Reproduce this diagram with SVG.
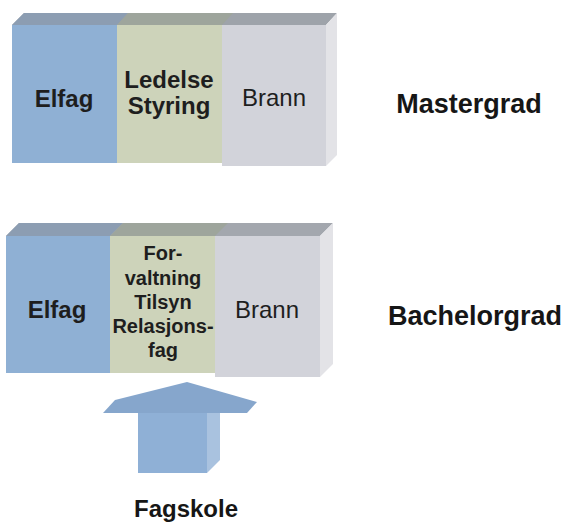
<svg xmlns="http://www.w3.org/2000/svg" width="573" height="522" viewBox="0 0 573 522">
<style>
.t{font-family:"Liberation Sans",Arial,sans-serif;fill:#1e1e1e;text-anchor:middle}
.b{font-weight:bold}
.lbl{font-family:"Liberation Sans",Arial,sans-serif;font-weight:bold;fill:#161616;font-size:27px;text-anchor:middle}
.blue{fill:#8fb0d4}
.green{fill:#cdd3ba}
.grey{fill:#d2d3da}
.side{fill:#e3e3e7}
</style>
<rect width="573" height="522" fill="#ffffff"/>
<g id="master">
  <polygon points="12,25 24,13 337,13 326,25" fill="#9ea3aa"/>
  <polygon points="12,25 24,13 128,13 117,25" fill="#8c9db2"/>
  <polygon points="117,25 128,13 233,13 222,25" fill="#9ea59c"/>
  <polygon points="326,25 337,13 337,155 326,166" class="side"/>
  <rect x="12" y="25" width="105" height="138" class="blue"/>
  <rect x="117" y="25" width="105" height="138" class="green"/>
  <rect x="222" y="25" width="104" height="141" class="grey"/>
  <text class="t b" x="64" y="107" font-size="24">Elfag</text>
  <text class="t b" x="169" y="88" font-size="24">Ledelse</text>
  <text class="t b" x="169" y="114" font-size="24">Styring</text>
  <text class="t" x="274" y="106" font-size="24">Brann</text>
</g>
<g id="bachelor">
  <polygon points="6,236 19,223 333,223 320,236" fill="#a3a7ae"/>
  <polygon points="6,236 19,223 123,223 110,236" fill="#8c9db2"/>
  <polygon points="110,236 123,223 228,223 215,236" fill="#9ea59c"/>
  <polygon points="320,236 333,223 333,364 320,377" class="side"/>
  <rect x="6" y="236" width="104" height="137" class="blue"/>
  <rect x="110" y="236" width="105" height="137" class="green"/>
  <rect x="215" y="236" width="105" height="141" class="grey"/>
  <text class="t b" x="57" y="318" font-size="24">Elfag</text>
  <text class="t b" x="163" y="260" font-size="20">For-</text>
  <text class="t b" x="163" y="285" font-size="20">valtning</text>
  <text class="t b" x="163" y="309" font-size="20">Tilsyn</text>
  <text class="t b" x="163" y="333" font-size="20">Relasjons-</text>
  <text class="t b" x="163" y="357" font-size="20">fag</text>
  <text class="t" x="267" y="318" font-size="24">Brann</text>
</g>
<g id="arrow">
  <polygon points="207,413 220,401 220,460 207,473" fill="#a9c2df"/>
  <polygon points="103,413 115,400 187,382 257,402 247,413" fill="#86a6cc"/>
  <polygon points="138,413 207,413 207,473 138,473" fill="#8fb0d6"/>
</g>
<text id="mastergrad" class="lbl" x="469" y="113">Mastergrad</text>
<text id="bachelorgrad" class="lbl" x="475" y="325">Bachelorgrad</text>
<text id="fagskole" class="lbl" x="186" y="517" font-size="24" style="font-size:24px">Fagskole</text>
<g id="connectors"></g>
</svg>
